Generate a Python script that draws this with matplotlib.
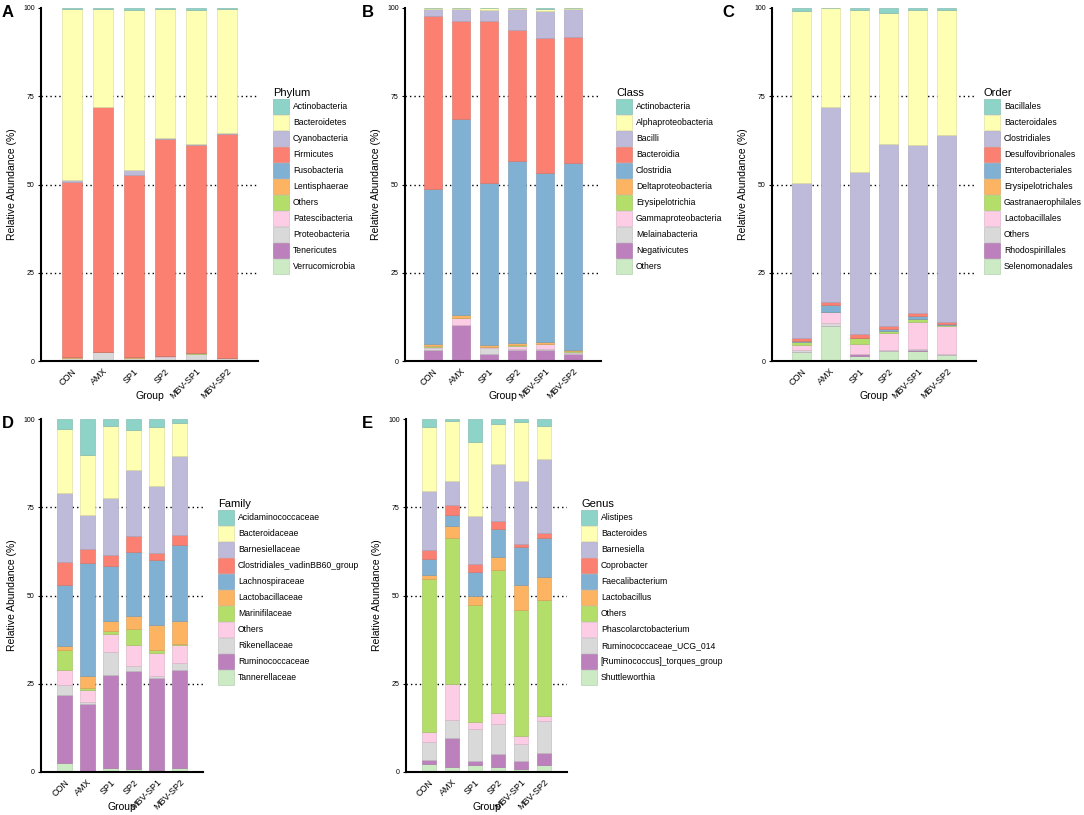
import matplotlib
matplotlib.use("Agg")
import matplotlib.pyplot as plt
from matplotlib.patches import Patch
from matplotlib.colors import to_rgb
import numpy as np

plt.rcParams['font.family'] = ['Liberation Sans', 'DejaVu Sans']

groups = ["CON", "AMX", "SP1", "SP2", "MBV-SP1", "MBV-SP2"]

# Set3 palette, one colour per legend entry
set3 = ["#8DD3C7", "#FFFFB3", "#BEBADA", "#FB8072", "#80B1D3", "#FDB462",
        "#B3DE69", "#FCCDE5", "#D9D9D9", "#BC80BD", "#CCEBC5"]

# ---- Phylum (A) ----
phylum_names = ["Actinobacteria", "Bacteroidetes", "Cyanobacteria", "Firmicutes",
                "Fusobacteria", "Lentisphaerae", "Others", "Patescibacteria",
                "Proteobacteria", "Tenericutes", "Verrucomicrobia"]
phylum_values = [
    [0.3, 0.3, 0.5, 0.3, 0.7, 0.4],
    [48.6, 27.7, 45.5, 36.5, 37.8, 35.0],
    [0.5, 0.2, 1.5, 0.4, 0.5, 0.3],
    [49.6, 69.2, 51.4, 61.4, 58.9, 63.4],
    [0.02, 0.02, 0.02, 0.02, 0.02, 0.02],
    [0.1, 0.0, 0.2, 0.0, 0.0, 0.0],
    [0.1, 0.1, 0.1, 0.1, 0.1, 0.1],
    [0.1, 0.1, 0.1, 0.1, 0.1, 0.0],
    [0.6, 2.3, 0.6, 1.1, 1.8, 0.7],
    [0.05, 0.05, 0.05, 0.05, 0.05, 0.05],
    [0.1, 0.1, 0.1, 0.1, 0.1, 0.1],
]

# ---- Class (B) ----
class_names = ["Actinobacteria", "Alphaproteobacteria", "Bacilli", "Bacteroidia",
               "Clostridia", "Deltaproteobacteria", "Erysipelotrichia",
               "Gammaproteobacteria", "Melainabacteria", "Negativicutes", "Others"]
class_values = [
    [0.1, 0.1, 0.1, 0.1, 0.4, 0.1],
    [0.2, 0.2, 0.4, 0.1, 0.4, 0.1],
    [1.9, 3.5, 3.1, 5.9, 7.7, 8.1],
    [49.0, 27.7, 45.9, 37.2, 38.3, 35.5],
    [43.9, 55.5, 45.9, 51.6, 47.7, 53.0],
    [0.6, 0.8, 0.6, 0.6, 0.6, 0.5],
    [0.2, 0.0, 0.1, 0.2, 0.1, 0.1],
    [0.5, 1.9, 0.3, 0.8, 1.5, 0.3],
    [0.5, 0.1, 1.7, 0.5, 0.3, 0.3],
    [3.0, 10.1, 1.8, 2.9, 2.9, 1.9],
    [0.1, 0.1, 0.1, 0.1, 0.1, 0.1],
]

# ---- Order (C) ----
order_names = ["Bacillales", "Bacteroidales", "Clostridiales", "Desulfovibrionales",
               "Enterobacteriales", "Erysipelotrichales", "Gastranaerophilales",
               "Lactobacillales", "Others", "Rhodospirillales", "Selenomonadales"]
order_values = [
    [0.8, 0.1, 0.5, 1.4, 0.5, 0.5],
    [48.8, 28.0, 46.0, 37.1, 38.4, 35.6],
    [44.0, 55.3, 45.9, 51.6, 47.6, 52.9],
    [0.7, 0.7, 1.0, 0.9, 0.7, 0.6],
    [0.2, 1.9, 0.1, 0.4, 0.9, 0.1],
    [0.2, 0.0, 0.1, 0.1, 0.1, 0.1],
    [0.8, 0.0, 1.5, 0.5, 0.8, 0.4],
    [1.4, 3.3, 2.8, 5.0, 7.7, 7.7],
    [0.5, 0.7, 0.1, 0.2, 0.1, 0.5],
    [0.1, 0.0, 0.5, 0.1, 0.5, 0.0],
    [2.5, 10.0, 1.5, 2.7, 2.7, 1.6],
]

# ---- Family (D) ----
family_names = ["Acidaminococcaceae", "Bacteroidaceae", "Barnesiellaceae",
                "Clostridiales_vadinBB60_group", "Lachnospiraceae", "Lactobacillaceae",
                "Marinifilaceae", "Others", "Rikenellaceae", "Ruminococcaceae",
                "Tannerellaceae"]
family_values = [
    [2.8, 10.2, 1.9, 3.1, 2.4, 1.0],
    [18.3, 17.1, 20.6, 11.4, 16.6, 9.5],
    [19.4, 9.6, 16.1, 18.6, 18.9, 22.4],
    [6.6, 4.0, 3.0, 4.7, 2.1, 2.8],
    [17.3, 32.0, 15.7, 18.0, 18.4, 21.5],
    [0.9, 3.3, 2.7, 3.7, 7.1, 6.4],
    [5.7, 0.5, 1.0, 4.4, 0.9, 0.5],
    [4.4, 3.5, 5.0, 6.1, 6.4, 5.0],
    [2.9, 0.4, 6.6, 1.5, 0.5, 2.1],
    [19.1, 19.1, 26.2, 27.6, 26.0, 27.7],
    [2.6, 0.3, 1.2, 0.9, 0.7, 1.1],
]

# ---- Genus (E) ----
genus_names = ["Alistipes", "Bacteroides", "Barnesiella", "Coprobacter",
               "Faecalibacterium", "Lactobacillus", "Others", "Phascolarctobacterium",
               "Ruminococcaceae_UCG_014", "[Ruminococcus]_torques_group", "Shuttleworthia"]
genus_values = [
    [2.2, 0.6, 6.6, 1.4, 0.8, 2.0],
    [18.1, 17.0, 20.8, 11.4, 16.8, 9.4],
    [16.7, 6.7, 13.6, 16.1, 17.7, 20.8],
    [2.8, 2.9, 2.4, 2.4, 1.1, 1.6],
    [4.4, 3.1, 6.8, 7.9, 10.7, 11.1],
    [1.0, 3.5, 2.5, 3.6, 6.9, 6.4],
    [43.5, 41.2, 33.1, 40.5, 35.9, 32.9],
    [2.8, 10.3, 1.9, 3.0, 2.3, 1.3],
    [5.0, 5.0, 9.2, 8.5, 4.8, 9.1],
    [1.3, 8.3, 1.2, 3.8, 2.1, 3.3],
    [2.2, 1.4, 1.9, 1.4, 0.9, 2.1],
]

W, H = 1084, 815
fig = plt.figure(figsize=(W / 100, H / 100), dpi=100)


def darker(c, f=0.85):
    r, g, b = to_rgb(c)
    return (r * f, g * f, b * f)


def panel(letter, letter_x, names, values, title, left, top, width, legend_x, legend_y):
    height = 353
    ax = fig.add_axes([left / W, 1 - (top + height) / H, width / W, height / H])
    x = np.arange(1, len(groups) + 1)
    vals = np.array(values)
    bottom = np.zeros(len(groups))
    # last legend entry sits at the bottom of the stack
    for i in range(len(names) - 1, -1, -1):
        ax.bar(x, vals[i], 0.65, bottom=bottom, color=set3[i],
               edgecolor=darker(set3[i]), linewidth=0.4, zorder=2)
        bottom += vals[i]
    ax.set_xlim(0, 7)
    ax.set_ylim(0, 100)
    ax.set_yticks([0, 25, 50, 75, 100])
    ax.set_xticks(x)
    ax.set_xticklabels(groups, rotation=45, ha="right", rotation_mode="anchor", fontsize=6.5)
    ax.tick_params(axis="y", labelsize=5, length=2.5, width=0.8, pad=2)
    ax.tick_params(axis="x", length=0, pad=4)
    for yv in [25, 50, 75]:
        ax.axhline(yv, color="black", linestyle=(0, (1, 2.2)), linewidth=1.0, zorder=1)
    for s in ["top", "right"]:
        ax.spines[s].set_visible(False)
    for s in ["left", "bottom"]:
        ax.spines[s].set_linewidth(1.5)
    ax.set_ylabel("Relative Abundance (%)", fontsize=7.5)
    ax.set_xlabel("Group", fontsize=7.5)
    ax.yaxis.set_label_coords(-24 / width, 0.5)
    ax.xaxis.set_label_coords(0.5, -30 / height)
    fig.text(letter_x / W, 1 - (top - 3) / H, letter, fontsize=12, fontweight="bold",
             va="top", ha="left")
    handles = [Patch(facecolor=set3[i], edgecolor=darker(set3[i]), linewidth=0.4)
               for i in range(len(names))]
    fig.legend(handles, names, title=title, loc="upper left",
               bbox_to_anchor=(legend_x / W, 1 - legend_y / H),
               frameon=False, fontsize=6.2, title_fontsize=8,
               handlelength=1.8, handleheight=2.3, labelspacing=0.12,
               handletextpad=0.5, borderpad=0, borderaxespad=0,
               alignment="left")
    return ax


panel("A", 2, phylum_names, phylum_values, "Phylum", 41, 8, 217, 273, 88)
panel("B", 362, class_names, class_values, "Class", 405, 8, 196, 616, 88)
panel("C", 722, order_names, order_values, "Order", 772, 8, 204, 984, 88)
panel("D", 2, family_names, family_values, "Family", 41, 419, 162, 218, 499)
panel("E", 362, genus_names, genus_values, "Genus", 406, 419, 161, 581, 499)
fig.savefig("out.png", dpi=100)
